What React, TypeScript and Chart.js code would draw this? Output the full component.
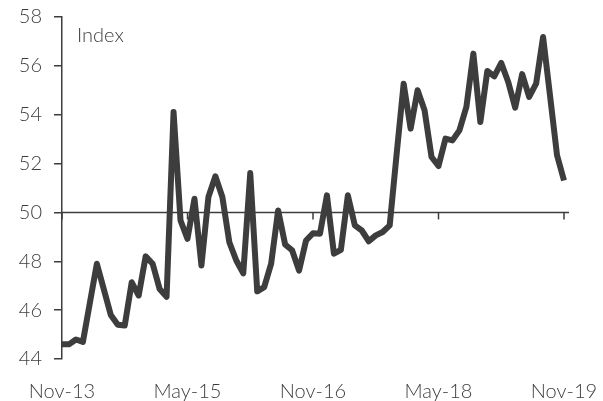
import React, { useEffect, useRef } from "react";
import { Chart, registerables } from "chart.js";

Chart.register(...registerables);

const months = [
  "Nov-13","Dec-13","Jan-14","Feb-14","Mar-14","Apr-14","May-14","Jun-14","Jul-14","Aug-14","Sep-14","Oct-14",
  "Nov-14","Dec-14","Jan-15","Feb-15","Mar-15","Apr-15","May-15","Jun-15","Jul-15","Aug-15","Sep-15","Oct-15",
  "Nov-15","Dec-15","Jan-16","Feb-16","Mar-16","Apr-16","May-16","Jun-16","Jul-16","Aug-16","Sep-16","Oct-16",
  "Nov-16","Dec-16","Jan-17","Feb-17","Mar-17","Apr-17","May-17","Jun-17","Jul-17","Aug-17","Sep-17","Oct-17",
  "Nov-17","Dec-17","Jan-18","Feb-18","Mar-18","Apr-18","May-18","Jun-18","Jul-18","Aug-18","Sep-18","Oct-18",
  "Nov-18","Dec-18","Jan-19","Feb-19","Mar-19","Apr-19","May-19","Jun-19","Jul-19","Aug-19","Sep-19","Oct-19",
  "Nov-19",
];

const indexValues = [
  44.6, 44.6, 44.8, 44.7, 46.3, 47.9, 46.85, 45.8, 45.4, 45.37, 47.14, 46.6,
  48.2, 47.9, 46.87, 46.55, 54.11, 49.67, 48.92, 50.56, 47.83, 50.63, 51.48, 50.63,
  48.78, 48.03, 47.51, 51.61, 46.77, 46.94, 47.9, 50.08, 48.69, 48.45, 47.62, 48.85,
  49.15, 49.13, 50.7, 48.31, 48.47, 50.7, 49.47, 49.26, 48.82, 49.06, 49.2, 49.47,
  52.4, 55.27, 53.43, 55.0, 54.18, 52.27, 51.9, 53.02, 52.95, 53.36, 54.32, 56.5,
  53.7, 55.79, 55.57, 56.12, 55.34, 54.29, 55.66, 54.73, 55.27, 57.18, 54.77, 52.34,
  51.31,
];

const tickLabels = ["Nov-13", "May-15", "Nov-16", "May-18", "Nov-19"];
const yMin = 44;
const yMax = 58;
const yStep = 2;
const baseline = 50;
const unitLabel = "Index";

const INK = "#3d3d3d";
const FONT = "Lato, 'Open Sans', sans-serif";

const baselinePlugin = {
  id: "baselinePlugin",
  beforeDatasetsDraw(chart: any) {
    const { ctx, chartArea, scales } = chart;
    const y = scales.y.getPixelForValue(baseline);
    ctx.save();
    ctx.strokeStyle = INK;
    ctx.lineWidth = 1.5;
    ctx.beginPath();
    ctx.moveTo(chartArea.left, y);
    ctx.lineTo(chartArea.right + 5, y);
    ctx.stroke();
    months.forEach((m, i) => {
      if (tickLabels.includes(m)) {
        const x = scales.x.getPixelForValue(i);
        ctx.beginPath();
        ctx.moveTo(x, y);
        ctx.lineTo(x, y + 7);
        ctx.stroke();
      }
    });
    ctx.restore();
  },
  afterDraw(chart: any) {
    const { ctx, chartArea } = chart;
    ctx.save();
    ctx.fillStyle = INK;
    ctx.font = `300 20px ${FONT}`;
    ctx.textBaseline = "middle";
    ctx.textAlign = "left";
    ctx.fillText(unitLabel, chartArea.left + 15, chartArea.top + 19);
    ctx.restore();
  },
};

export default function App() {
  const ref = useRef<HTMLCanvasElement | null>(null);
  useEffect(() => {
    if (!ref.current) return;
    const chart = new Chart(ref.current, {
      type: "line",
      data: {
        labels: months,
        datasets: [
          {
            data: indexValues,
            borderColor: INK,
            borderWidth: 6,
            pointRadius: 0,
            tension: 0,
            borderJoinStyle: "round",
            borderCapStyle: "butt",
            fill: false,
          },
        ],
      },
      options: {
        animation: false,
        responsive: true,
        maintainAspectRatio: false,
        layout: { padding: { top: 17, right: 39, bottom: 0, left: 0 } },
        plugins: { legend: { display: false }, tooltip: { enabled: false } },
        scales: {
          x: {
            type: "category",
            offset: false,
            grid: { display: false },
            border: { display: false },
            afterFit: (s: any) => {
              s.height = 42;
              s.paddingLeft = 0;
              s.paddingRight = 0;
            },
            ticks: {
              autoSkip: false,
              maxRotation: 0,
              minRotation: 0,
              padding: 13,
              color: INK,
              font: { family: FONT, size: 20, weight: "300" as any },
              callback: (_v: any, i: number) =>
                tickLabels.includes(months[i]) ? months[i] : null,
            },
          },
          y: {
            min: yMin,
            max: yMax,
            afterFit: (s: any) => {
              s.width = 62;
              s.paddingTop = 0;
              s.paddingBottom = 0;
            },
            grid: {
              drawOnChartArea: false,
              drawTicks: true,
              tickLength: 8,
              color: INK,
              lineWidth: 1.5,
            },
            border: { display: true, color: INK, width: 1.5 },
            ticks: {
              stepSize: yStep,
              padding: 12,
              color: INK,
              font: { family: FONT, size: 20, weight: "300" as any },
            },
          },
        },
      },
      plugins: [baselinePlugin],
    });
    return () => chart.destroy();
  }, []);

  return (
    <div style={{ position: "fixed", left: 0, top: 0, width: 603, height: 401 }}>
      <canvas ref={ref} />
    </div>
  );
}
